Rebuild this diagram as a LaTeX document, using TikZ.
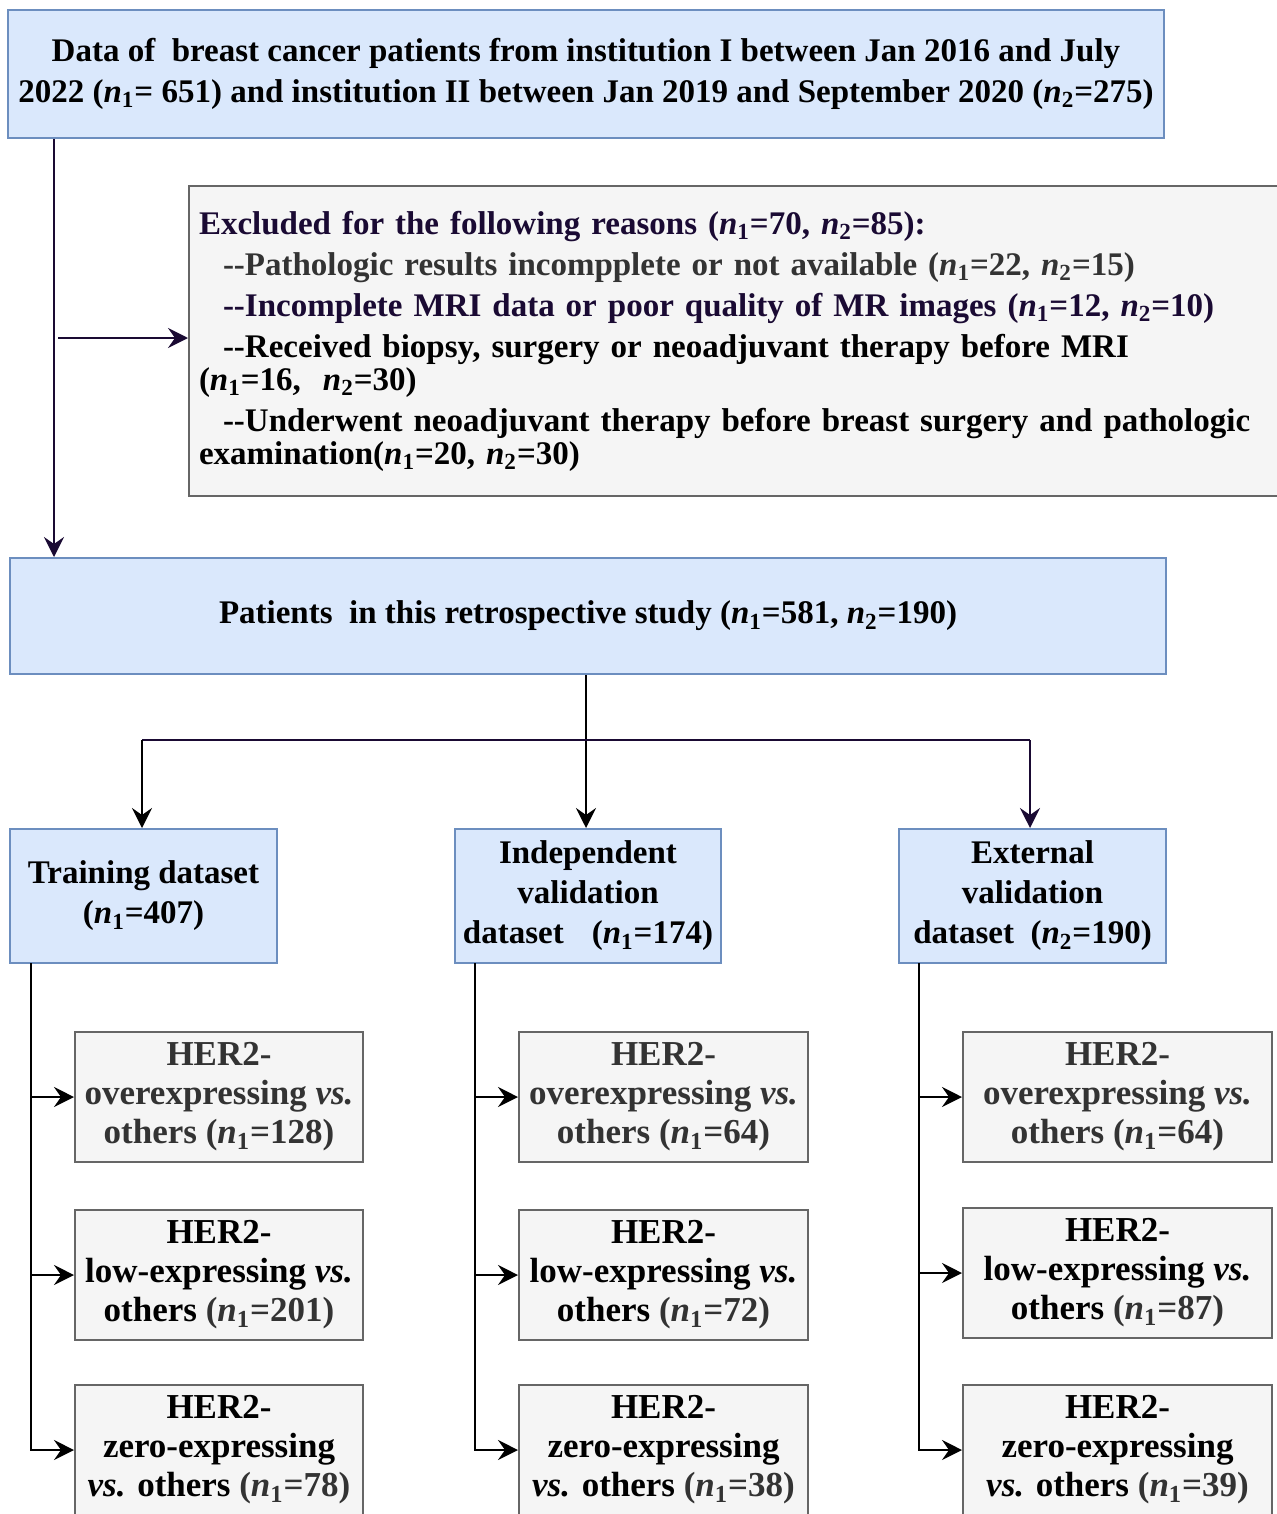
\documentclass[tikz,border=0pt]{standalone}
\usepackage{fontspec}
\setmainfont{Liberation Serif}
\usetikzlibrary{arrows.meta}
\definecolor{bfill}{HTML}{DAE8FC}
\definecolor{bdraw}{HTML}{6C8EBF}
\definecolor{gfill}{HTML}{F5F5F5}
\definecolor{gdraw}{HTML}{666666}
\definecolor{pur}{HTML}{1A0A33}
\definecolor{dg}{HTML}{333333}
\newcommand{\nsub}[1]{\textit{n}\textsubscript{#1}}
\newcommand{\dd}{-\kern0pt-}
\begin{document}
\begin{tikzpicture}[x=0.5pt,y=-0.5pt,
  bluebox/.style={draw=bdraw,fill=bfill,line width=1pt,inner sep=0pt,align=center},
  graybox/.style={draw=gdraw,fill=gfill,line width=1pt,inner sep=0pt,align=center},
  arr/.style={line width=1pt,-{Stealth[length=10pt,width=10pt,inset=3.5pt]}},
  ftop/.style={font=\fontsize{16.5pt}{20.5pt}\selectfont\bfseries},
  fexc/.style={font=\fontsize{16.5pt}{16.5pt}\selectfont\bfseries},
  fds/.style={font=\fontsize{16.5pt}{20pt}\selectfont\bfseries},
  fher/.style={font=\fontsize{17.5pt}{19.5pt}\selectfont\bfseries},
  her1/.style={graybox,fher,minimum width=144pt,minimum height=65pt},
  her2/.style={graybox,fher,minimum width=144.5pt,minimum height=65pt},
  her3/.style={graybox,fher,minimum width=154.5pt,minimum height=65pt},
  dsbox/.style={bluebox,fds,minimum width=133.5pt,minimum height=67pt}
]
\useasboundingbox (0,0) rectangle (1277,1514);

% top box
\node[bluebox,ftop,minimum width=578pt,minimum height=64pt] (top) at (586,74)
  {Data of\ \ breast cancer patients from institution I between Jan 2016 and July\\
   2022 (\nsub{1}= 651) and institution II between Jan 2019 and September 2020 (\nsub{2}=275)};

% exclusion box
\node[graybox,fexc,anchor=north west,minimum width=551pt,minimum height=155pt,
      text width=541pt,inner xsep=5pt,align=left] (excl) at (188,185)
  {\textcolor{pur}{Excluded for the following reasons (\nsub{1}=70, \nsub{2}=85):}\\[4pt]
   \hspace*{12pt}\textcolor{dg}{\dd Pathologic results incompplete or not available (\nsub{1}=22, \nsub{2}=15)}\\[4pt]
   \hspace*{12pt}\textcolor{pur}{\dd Incomplete MRI data or poor quality of MR images (\nsub{1}=12, \nsub{2}=10)}\\[4pt]
   \hspace*{12pt}\dd Received biopsy, surgery or neoadjuvant therapy before MRI\\
   (\nsub{1}=16,\ \ \nsub{2}=30)\\[4pt]
   \hspace*{12pt}\dd Underwent neoadjuvant therapy before breast surgery and pathologic\\
   examination(\nsub{1}=20, \nsub{2}=30)};

% patients box
\node[bluebox,ftop,minimum width=578pt,minimum height=58pt] (pat) at (588,616)
  {Patients\ \ in this retrospective study (\nsub{1}=581, \nsub{2}=190)};

% dataset boxes
\node[dsbox] (train) at (143.5,896) {Training dataset\\(\nsub{1}=407)};
\node[dsbox,minimum width=133pt] (ind) at (588,896) {Independent\\validation\\dataset\hspace{0.6em} (\nsub{1}=174)};
\node[dsbox] (ext) at (1032.5,896) {External\\validation\\dataset\ \ (\nsub{2}=190)};

% HER2 boxes column 1
\node[her1,text=dg] (a1) at (219,1097) {HER2-\\overexpressing \textit{vs.}\\others (\nsub{1}=128)};
\node[her1] (a2) at (219,1275) {HER2-\\low-expressing \textit{vs.}\\others \textcolor{dg}{(\nsub{1}=201)}};
\node[her1] (a3) at (219,1450) {HER2-\\zero-expressing\\\textit{vs.} others \textcolor{dg}{(\nsub{1}=78)}};
% column 2
\node[her2,text=dg] (b1) at (663.5,1097) {HER2-\\overexpressing \textit{vs.}\\others (\nsub{1}=64)};
\node[her2] (b2) at (663.5,1275) {HER2-\\low-expressing \textit{vs.}\\others \textcolor{dg}{(\nsub{1}=72)}};
\node[her2] (b3) at (663.5,1450) {HER2-\\zero-expressing\\\textit{vs.} others \textcolor{dg}{(\nsub{1}=38)}};
% column 3
\node[her3,text=dg] (e1) at (1117.5,1097) {HER2-\\overexpressing \textit{vs.}\\others (\nsub{1}=64)};
\node[her3] (e2) at (1117.5,1273) {HER2-\\low-expressing \textit{vs.}\\others \textcolor{dg}{(\nsub{1}=87)}};
\node[her3] (e3) at (1117.5,1450) {HER2-\\zero-expressing\\\textit{vs.} others \textcolor{dg}{(\nsub{1}=39)}};

% connectors top
\coordinate (vx) at (54,0);
\coordinate (hstart) at (58,338);
\draw[arr,pur] (top.south -| vx) -- (pat.north -| vx);
\draw[arr,pur] (hstart) -- (hstart -| excl.west);

% patients to datasets
\coordinate (split) at (586,740);
\coordinate (lx) at (142,740);
\coordinate (rx) at (1030,740);
\draw[arr] (pat.south -| split) -- (ind.north -| split);
\draw[line width=1pt,pur] (lx) -- (rx);
\draw[arr] (lx) -- (train.north -| lx);
\draw[arr,pur] (rx) -- (ext.north -| rx);

% column connectors
\coordinate (c1) at (31,963);
\coordinate (c2) at (475,963);
\coordinate (c3) at (919,963);
\foreach \c/\n in {c1/a1,c1/a2,c1/a3,c2/b1,c2/b2,c2/b3,c3/e1,c3/e2,c3/e3}
  \draw[arr] (\c) |- (\n.west);
\end{tikzpicture}
\end{document}
